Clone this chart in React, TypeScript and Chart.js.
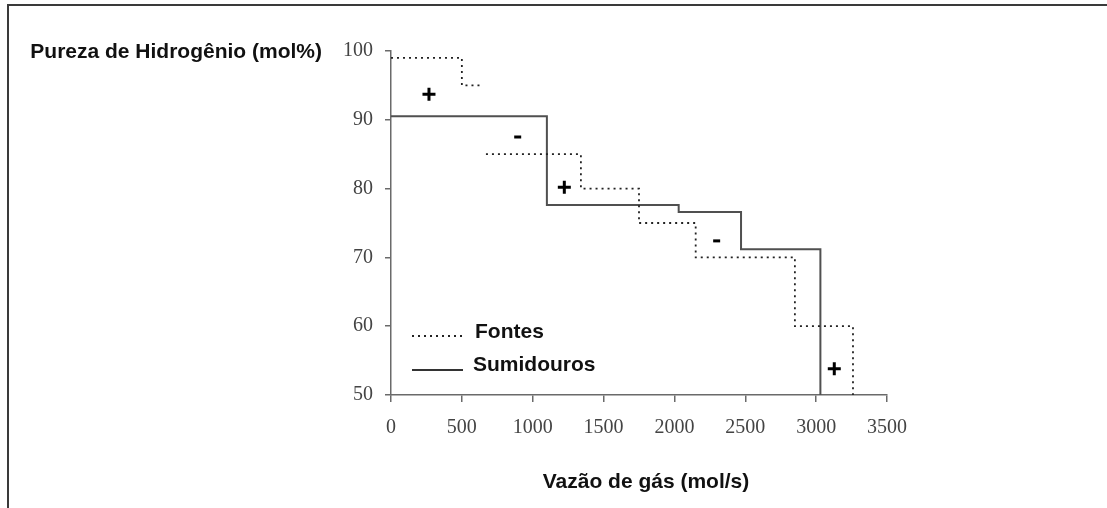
import React, { useEffect, useRef } from "react";
import { Chart, registerables } from "chart.js";

Chart.register(...registerables);

// Axis ranges / ticks
const xMin = 0;
const xMax = 3500;
const xStep = 500;
const yMin = 50;
const yMax = 100;
const yStep = 10;

// Fontes (sources) composite curve: level segments [start, end]
const fontesStart = [0, 500, 670, 1340, 1750, 2150, 2850];
const fontesEnd = [500, 640, 1340, 1750, 2150, 2850, 3260];
const fontesLevel = [99, 95, 85, 80, 75, 70, 60];

// Sumidouros (sinks) composite curve
const sumStart = [0, 1100, 2030, 2470];
const sumEnd = [1100, 2030, 2470, 3030];
const sumLevel = [90.5, 77.6, 76.6, 71.2];

// +/- markers
const signX = [268, 894, 1223, 2298, 3128];
const signY = [93.7, 87.5, 80.2, 72.4, 53.8];
const signKind = ["+", "-", "+", "-", "+"];

const yTitle = "Pureza de Hidrogênio (mol%)";
const xTitle = "Vazão de gás (mol/s)";
const legendLabels = ["Fontes", "Sumidouros"];

function buildSteps(starts: number[], ends: number[], levels: number[], floor: number) {
  const pts: { x: number; y: number | null }[] = [];
  for (let i = 0; i < levels.length; i++) {
    if (i > 0 && starts[i] !== ends[i - 1]) {
      pts.push({ x: (ends[i - 1] + starts[i]) / 2, y: null });
    }
    pts.push({ x: starts[i], y: levels[i] });
    pts.push({ x: ends[i], y: levels[i] });
  }
  pts.push({ x: ends[ends.length - 1], y: floor });
  return pts;
}

const SANS = '"Liberation Sans", Arial, sans-serif';
const SERIF = '"Liberation Serif", "Times New Roman", serif';
const AXIS_COLOR = "#6a6a6a";
const DOT_DASH = [2, 4];

const decorPlugin = {
  id: "decor",
  beforeDraw(chart: any) {
    const ctx = chart.ctx;
    ctx.save();
    ctx.fillStyle = "#fff";
    ctx.fillRect(0, 0, chart.width, chart.height);
    ctx.fillStyle = "#3a3a3a";
    ctx.fillRect(7, 4, chart.width - 7, 2);
    ctx.fillRect(7, 4, 2, chart.height - 4);
    ctx.restore();
  },
  afterDraw(chart: any) {
    const ctx = chart.ctx;
    const a = chart.chartArea;
    ctx.save();
    ctx.fillStyle = "#111";
    ctx.font = `bold 21px ${SANS}`;
    ctx.textBaseline = "alphabetic";
    // y title (horizontal, at top-left)
    ctx.textAlign = "right";
    ctx.fillText(yTitle, a.left - 69, a.top + 6.5);
    // x title
    ctx.textAlign = "center";
    ctx.fillText(xTitle, (a.left + a.right) / 2 + 7, a.bottom + 93);
    // legend
    const lx0 = a.left + 21;
    const lx1 = a.left + 72;
    const tx = a.left + 84;
    const y1 = a.bottom - 59;
    const y2 = a.bottom - 25;
    ctx.strokeStyle = "#222";
    ctx.lineWidth = 1.8;
    ctx.setLineDash(DOT_DASH);
    ctx.beginPath();
    ctx.moveTo(lx0, y1);
    ctx.lineTo(lx1, y1);
    ctx.stroke();
    ctx.setLineDash([]);
    ctx.strokeStyle = "#333";
    ctx.lineWidth = 2;
    ctx.beginPath();
    ctx.moveTo(lx0, y2);
    ctx.lineTo(lx1, y2);
    ctx.stroke();
    ctx.textAlign = "left";
    ctx.fillText(legendLabels[0], tx, y1 + 2);
    ctx.fillText(legendLabels[1], tx - 2, y2 + 1);
    ctx.restore();
  },
};

export default function App() {
  const ref = useRef<HTMLCanvasElement | null>(null);

  useEffect(() => {
    if (!ref.current) return;
    const chart = new Chart(ref.current, {
      type: "line",
      data: {
        datasets: [
          {
            label: legendLabels[0],
            data: buildSteps(fontesStart, fontesEnd, fontesLevel, yMin) as any,
            borderColor: "#222",
            borderWidth: 1.8,
            borderDash: DOT_DASH,
            pointRadius: 0,
            fill: false,
            spanGaps: false,
            tension: 0,
          },
          {
            label: legendLabels[1],
            data: buildSteps(sumStart, sumEnd, sumLevel, yMin) as any,
            borderColor: "#505050",
            borderWidth: 2,
            pointRadius: 0,
            fill: false,
            tension: 0,
          },
          {
            label: "signs",
            data: signX.map((x, i) => ({ x, y: signY[i] })) as any,
            showLine: false,
            pointStyle: signKind.map((k) => (k === "+" ? "cross" : "line")) as any,
            pointRadius: signKind.map((k) => (k === "+" ? 6.5 : 3.5)) as any,
            pointBorderWidth: 3,
            pointBorderColor: "#000",
            pointBackgroundColor: "#000",
          },
        ],
      },
      options: {
        responsive: false,
        maintainAspectRatio: false,
        animation: false,
        events: [],
        layout: { padding: { left: 0, top: 51, right: 220, bottom: 0 } },
        plugins: {
          legend: { display: false },
          tooltip: { enabled: false },
          title: { display: false },
        },
        scales: {
          x: {
            type: "linear",
            min: xMin,
            max: xMax,
            ticks: {
              stepSize: xStep,
              color: "#444",
              font: { family: SERIF, size: 20 },
              padding: 14,
              maxRotation: 0,
              callback: (v: any) => String(v),
            },
            grid: {
              drawOnChartArea: false,
              drawTicks: true,
              tickLength: 7,
              color: AXIS_COLOR,
              lineWidth: 1.5,
            },
            border: { display: true, color: AXIS_COLOR, width: 1.5 },
            afterFit: (s: any) => {
              s.height = 113;
            },
          },
          y: {
            type: "linear",
            min: yMin,
            max: yMax,
            ticks: {
              stepSize: yStep,
              color: "#444",
              font: { family: SERIF, size: 20 },
              padding: 12,
              callback: (v: any) => String(v),
            },
            grid: {
              drawOnChartArea: false,
              drawTicks: true,
              tickLength: 6,
              color: AXIS_COLOR,
              lineWidth: 1.5,
            },
            border: { display: true, color: AXIS_COLOR, width: 1.5 },
            afterFit: (s: any) => {
              s.width = 391;
            },
          },
        },
      } as any,
      plugins: [decorPlugin],
    });
    return () => chart.destroy();
  }, []);

  return (
    <canvas
      ref={ref}
      width={1107}
      height={508}
      style={{ position: "absolute", left: 0, top: 0, width: 1107, height: 508 }}
    />
  );
}
